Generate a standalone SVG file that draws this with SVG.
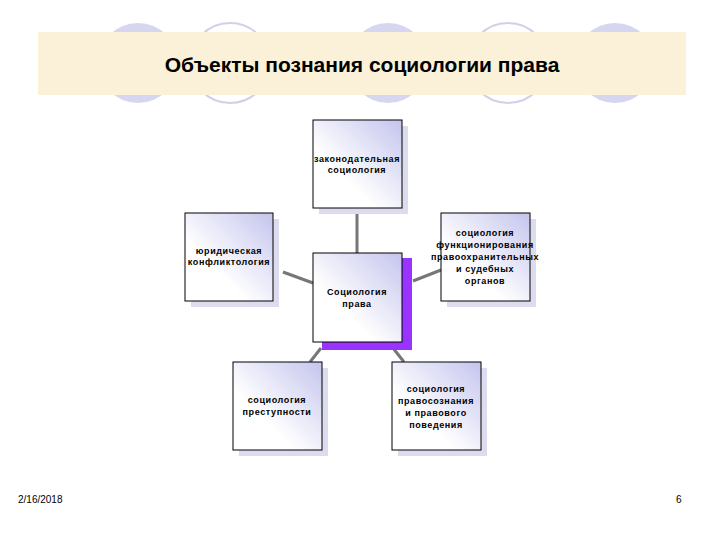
<svg xmlns="http://www.w3.org/2000/svg" width="720" height="540" viewBox="0 0 720 540">
<defs>
<linearGradient id="g" x1="0" y1="1" x2="1" y2="0">
<stop offset="0.35" stop-color="#ffffff"/><stop offset="1" stop-color="#c4c4ee"/>
</linearGradient>
<style>
.c{fill:#d6d6f0}.o{fill:#fff;stroke:#d0d0e8;stroke-width:2}
.b{fill:url(#g);stroke:#000;stroke-width:1}
.s{fill:#dcdcee}
.t{font-family:"Liberation Sans",Arial,sans-serif;font-size:9px;font-weight:bold;text-anchor:middle;letter-spacing:0.6px;fill:#000}
.k{stroke:#777;stroke-width:3}
.f{font-family:"Liberation Sans",Arial,sans-serif;font-size:10px;fill:#000}
</style>
</defs>
<rect width="720" height="540" fill="#fff"/>
<g id="deco">
<circle class="c" cx="138" cy="63" r="40"/><circle class="o" cx="230" cy="63" r="40"/>
<circle class="c" cx="388" cy="63" r="40"/><circle class="o" cx="508" cy="63" r="40"/>
<circle class="c" cx="615" cy="63" r="40"/>
<rect x="38" y="32" width="648" height="63" fill="#faf1d8"/>
<text x="362" y="72" font-family="Liberation Sans,Arial,sans-serif" font-size="21" font-weight="bold" text-anchor="middle">Объекты познания социологии права</text>
</g>
<g id="connectors">
<line class="k" x1="357" y1="208" x2="357" y2="253"/>
<line class="k" x1="283" y1="272" x2="313" y2="283"/>
<line class="k" x1="413" y1="281" x2="441" y2="270"/>
<line class="k" x1="321" y1="348" x2="310" y2="362"/>
<line class="k" x1="393" y1="348" x2="404" y2="362"/>
</g>
<g id="top"><rect class="s" x="319" y="126" width="89" height="88"/><rect class="b" x="313" y="120" width="89" height="88"/>
<text class="t" x="357" y="162">законодательная</text><text class="t" x="357" y="173">социология</text></g>
<g id="left"><rect class="s" x="191" y="219" width="88" height="88"/><rect class="b" x="185" y="213" width="88" height="88"/>
<text class="t" x="229" y="254">юридическая</text><text class="t" x="229" y="265">конфликтология</text></g>
<g id="right"><rect class="s" x="447" y="219" width="89" height="88"/><rect class="b" x="441" y="213" width="89" height="88"/>
<text class="t" x="485" y="236">социология</text><text class="t" x="485" y="248">функционирования</text><text class="t" x="485" y="260">правоохранительных</text><text class="t" x="485" y="272">и судебных</text><text class="t" x="485" y="284">органов</text></g>
<g id="center"><rect x="322" y="258" width="90" height="92" fill="#9933ff"/><rect class="b" x="313" y="253" width="89" height="89"/>
<text class="t" x="357" y="295">Социология</text><text class="t" x="357" y="307">права</text></g>
<g id="bl"><rect class="s" x="239" y="368" width="89" height="88"/><rect class="b" x="233" y="362" width="89" height="88"/>
<text class="t" x="277" y="403">социология</text><text class="t" x="277" y="415">преступности</text></g>
<g id="br"><rect class="s" x="398" y="368" width="89" height="88"/><rect class="b" x="392" y="362" width="89" height="88"/>
<text class="t" x="436" y="392">социология</text><text class="t" x="436" y="404">правосознания</text><text class="t" x="436" y="416">и правового</text><text class="t" x="436" y="428">поведения</text></g>
<text class="f" x="18" y="503">2/16/2018</text>
<text class="f" x="676" y="503">6</text>
</svg>
